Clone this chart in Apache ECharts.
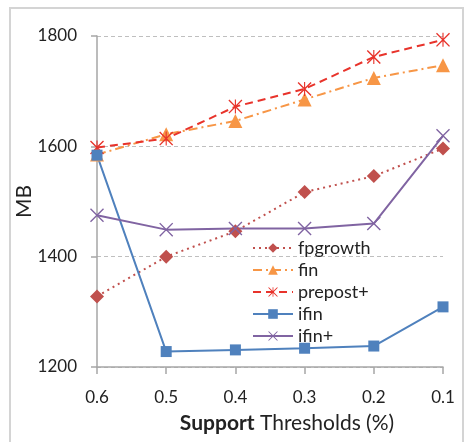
<!DOCTYPE html>
<html>
<head>
<meta charset="utf-8">
<script src="https://cdn.jsdelivr.net/npm/echarts@6/dist/echarts.min.js"></script>
<style>
  html, body { margin: 0; padding: 0; background: #fff; }
  #main { width: 464px; height: 442px; }
</style>
</head>
<body>
<div id="main"></div>
<script>
// support thresholds on the x axis
var thresholds = ["0.6", "0.5", "0.4", "0.3", "0.2", "0.1"];

// memory (MB) per algorithm
var fpgrowth = [1328, 1400, 1446, 1517, 1546, 1596];
var fin      = [1585, 1622, 1646, 1685, 1724, 1747];
var prepost  = [1598, 1614, 1672, 1704, 1762, 1793];
var ifin     = [1584, 1228, 1231, 1234, 1238, 1309];
var ifinPlus = [1475, 1449, 1451, 1451, 1460, 1619];

var X_PATH = "path://M0,1.4 L1.4,0 L10,8.6 L18.6,0 L20,1.4 L11.4,10 L20,18.6 L18.6,20 L10,11.4 L1.4,20 L0,18.6 L8.6,10 Z";
var STAR_PATH = "path://M0,1.4 L1.4,0 L10,8.6 L18.6,0 L20,1.4 L11.4,10 L20,18.6 L18.6,20 L10,11.4 L1.4,20 L0,18.6 L8.6,10 Z M9.2,0 L10.8,0 L10.8,20 L9.2,20 Z";

var chart = echarts.init(document.getElementById("main"));

function line(name, data, color, type, symbol, size) {
  return {
    name: name,
    type: "line",
    data: data,
    symbol: symbol,
    symbolSize: size,
    showAllSymbol: true,
    animation: false,
    itemStyle: { color: color },
    lineStyle: { color: color, width: 2, type: type, cap: type === "dotted" ? "round" : "butt" }
  };
}

var option = {
  textStyle: { fontFamily: "Lato" },
  graphic: [{
    type: "rect",
    shape: { x: 10, y: 8, width: 453, height: 445 },
    style: { fill: "none", stroke: "#d4d4d4", lineWidth: 2 },
    silent: true
  }],
  grid: { left: 97, right: 21, top: 36, bottom: 75 },
  legend: {
    orient: "vertical",
    left: 247,
    top: 234,
    itemWidth: 40,
    itemHeight: 12,
    itemGap: 4,
    textStyle: { fontSize: 18, lineHeight: 18, color: "#222", fontFamily: "Lato" },
    data: ["fpgrowth", "fin", "prepost+", "ifin", "ifin+"]
  },
  xAxis: {
    type: "category",
    data: thresholds,
    boundaryGap: false,
    axisLine: { lineStyle: { color: "#a6a6a6", width: 1.5 } },
    axisTick: { show: true, length: 7, lineStyle: { color: "#a6a6a6", width: 1.5 } },
    axisLabel: { fontSize: 17, color: "#222", margin: 22 },
    name: "{b|Support} Thresholds (%)",
    nameLocation: "middle",
    nameGap: 46,
    nameMoveOverlap: false,
    nameTextStyle: {
      fontSize: 21, color: "#222", padding: [0, 0, 0, 34],
      rich: { b: { fontSize: 21, fontWeight: "bold", color: "#222" } }
    }
  },
  yAxis: {
    type: "value",
    min: 1200,
    max: 1800,
    interval: 200,
    axisLine: { show: true, lineStyle: { color: "#a6a6a6", width: 1.5 } },
    axisTick: { show: true, length: 6, lineStyle: { color: "#a6a6a6", width: 1.5 } },
    axisLabel: { fontSize: 17, color: "#222", margin: 20, formatter: function (v) { return String(v); } },
    splitLine: { lineStyle: { color: "#bfbfbf", type: [4, 3], width: 1 } },
    name: "MB",
    nameLocation: "middle",
    nameRotate: 90,
    nameGap: 62,
    nameMoveOverlap: false,
    nameTextStyle: { fontSize: 21, color: "#222" }
  },
  series: [
    line("fpgrowth", fpgrowth, "#c0504d", [2, 4], "diamond", 14),
    line("fin", fin, "#f79646", [9, 4, 2, 4], "triangle", 14),
    line("prepost+", prepost, "#e8332b", [8, 5], STAR_PATH, 14),
    line("ifin", ifin, "#4f81bd", "solid", "rect", 11),
    line("ifin+", ifinPlus, "#8064a2", "solid", X_PATH, 14)
  ]
};

chart.setOption(option);
</script>
</body>
</html>
